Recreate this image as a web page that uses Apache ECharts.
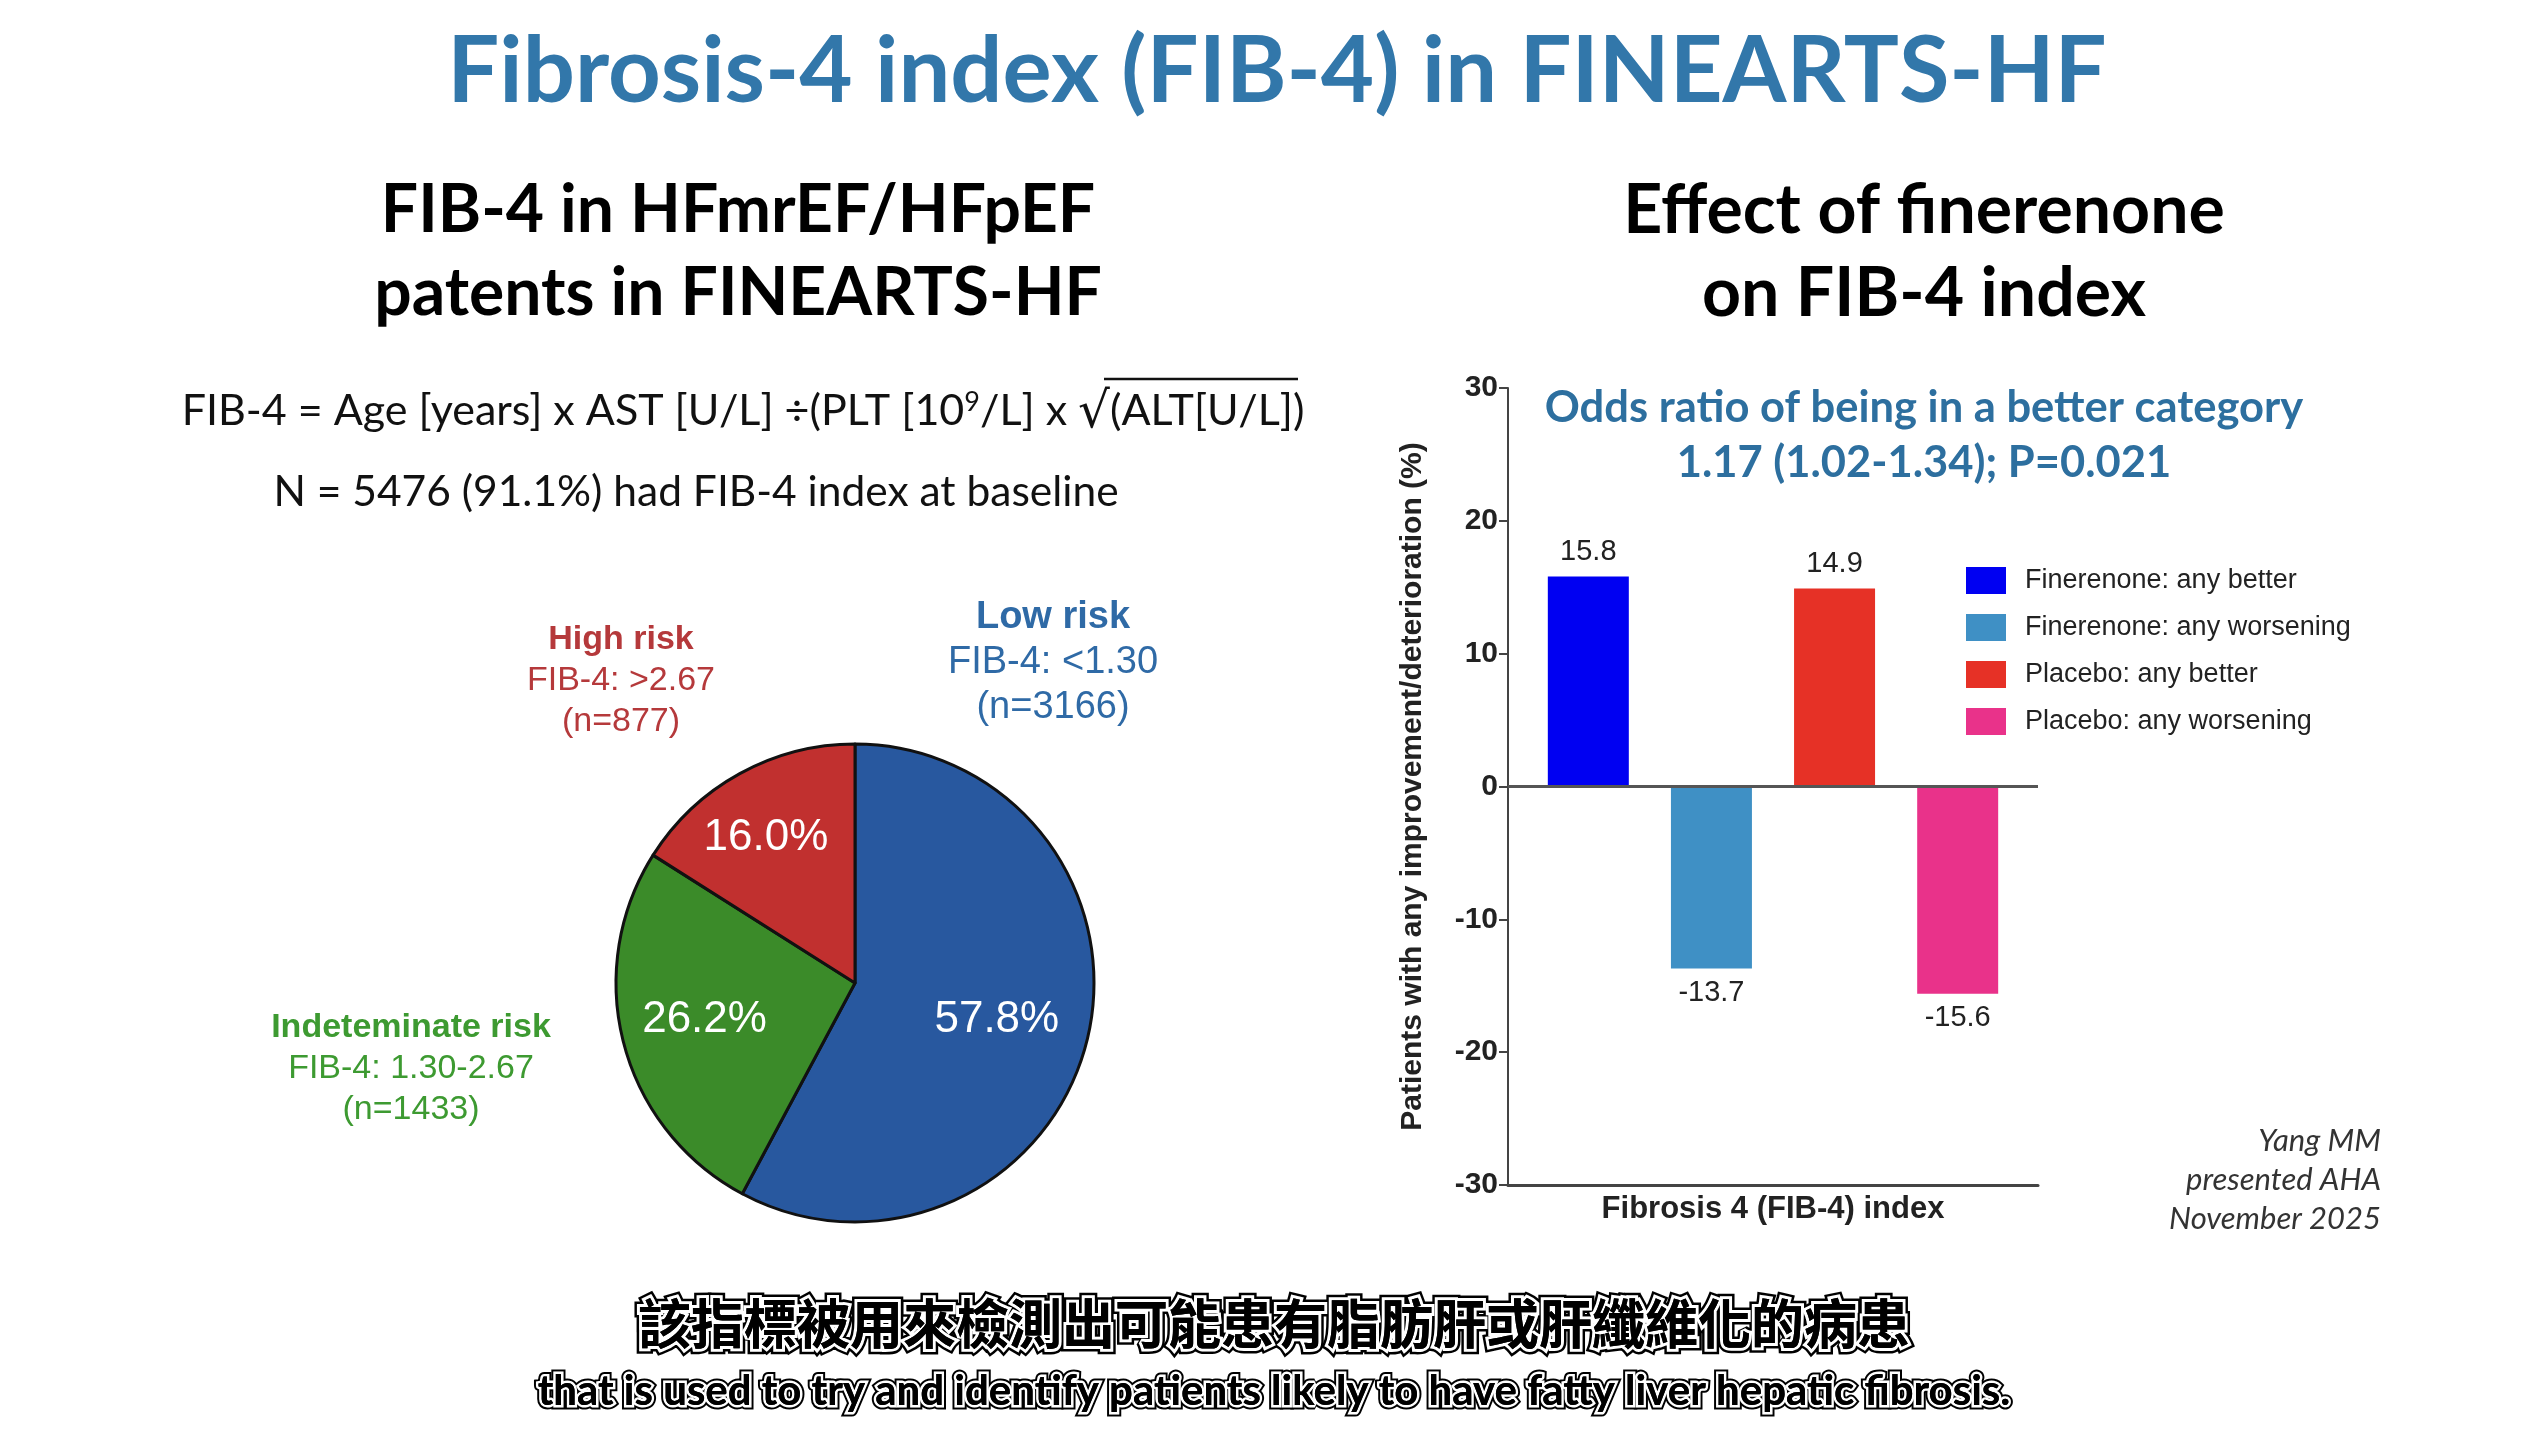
<!DOCTYPE html>
<html>
<head>
<meta charset="utf-8">
<script src="https://cdn.jsdelivr.net/npm/echarts@6/dist/echarts.min.js"></script>
<style>
html,body{margin:0;padding:0;background:#fff;}
#main{width:2548px;height:1432px;}
</style>
</head>
<body>
<div id="main"></div>
<script>
// ---- data ----
const riskNames = ['Low risk', 'Indeteminate risk', 'High risk'];
const riskRanges = ['FIB-4: <1.30', 'FIB-4: 1.30-2.67', 'FIB-4: >2.67'];
const riskCounts = [3166, 1433, 877];

const barCategories = ['Fibrosis 4 (FIB-4) index'];
const barSeriesNames = ['Finerenone: any better', 'Finerenone: any worsening', 'Placebo: any better', 'Placebo: any worsening'];
const barValues = [15.8, -13.7, 14.9, -15.6];
const yMin = -30, yMax = 30, yStep = 10;

const mainTitle = 'Fibrosis-4 index (FIB-4) in FINEARTS-HF';
const leftTitle = ['FIB-4 in HFmrEF/HFpEF', 'patents in FINEARTS-HF'];
const rightTitle = ['Effect of finerenone', 'on FIB-4 index'];
const nLine = 'N = 5476 (91.1%) had FIB-4 index at baseline';
const oddsLines = ['Odds ratio of being in a better category', '1.17 (1.02-1.34); P=0.021'];
const credit = ['Yang MM', 'presented AHA', 'November 2025'];
const subZh = '該指標被用來檢測出可能患有脂肪肝或肝纖維化的病患';
const subEn = 'that is used to try and identify patients likely to have fatty liver hepatic fibrosis.';

// ---- styles ----
const pieColors = ['#28589f', '#3b8b29', '#c1302f'];
const pieLabelColors = ['#2f6aa6', '#3d9a31', '#b5393b'];
const barColors = ['#0000f2', '#3f90c5', '#e63126', '#e9328a'];
const pieLabelOffsets = [[23, 7], [-32, 6], [-30, -38]];
const ARIAL = "'Liberation Sans', Arial, sans-serif";
const CAL = "Lato, 'Open Sans', sans-serif";

const chart = echarts.init(document.getElementById('main'), null, {renderer: 'canvas'});

// external pie labels
const extLabelPos = [
  {x: 1053, y: 663, h: 38, t: 38, lh: 45},
  {x: 411, y: 1069, h: 34, t: 34, lh: 41},
  {x: 621, y: 681, h: 34, t: 34, lh: 41}
];
const extLabels = riskNames.map((n, i) => ({
  type: 'text',
  x: extLabelPos[i].x, y: extLabelPos[i].y,
  style: {
    text: '{h|' + n + '}\n{t|' + riskRanges[i] + '}\n{t|(n=' + riskCounts[i] + ')}',
    align: 'center', verticalAlign: 'middle',
    rich: {
      h: {fontFamily: ARIAL, fontWeight: 'bold', fontSize: extLabelPos[i].h, fill: pieLabelColors[i], lineHeight: extLabelPos[i].lh, align: 'center'},
      t: {fontFamily: ARIAL, fontSize: extLabelPos[i].t, fill: pieLabelColors[i], lineHeight: extLabelPos[i].lh, align: 'center'}
    }
  }
}));

function subtitleLayers(text, y, font, size, weight, outer, inner) {
  const base = {text: text, fontFamily: font, fontWeight: weight, fontSize: size, align: 'center', verticalAlign: 'middle'};
  return [
    {type: 'text', x: 1274, y: y, style: Object.assign({}, base, {fill: '#000', stroke: '#000', lineWidth: outer})},
    {type: 'text', x: 1274, y: y, style: Object.assign({}, base, {fill: '#000', stroke: '#fff', lineWidth: inner})},
    {type: 'text', x: 1274, y: y, style: Object.assign({}, base, {fill: '#000'})}
  ];
}

const T = (x, y, text, extra) => ({type: 'text', x: x, y: y, style: Object.assign({text: text, align: 'center', verticalAlign: 'middle'}, extra)});

const option = {
  backgroundColor: '#fff',
  animation: false,
  graphic: [
    T(1277, 72, mainTitle, {fontFamily: CAL, fontWeight: 'bold', fontSize: 92, fill: '#3277aa'}),
    T(738, 211, leftTitle[0], {fontFamily: CAL, fontWeight: 'bold', fontSize: 66, fill: '#000'}),
    T(738, 294, leftTitle[1], {fontFamily: CAL, fontWeight: 'bold', fontSize: 66, fill: '#000'}),
    T(1924, 211, rightTitle[0], {fontFamily: CAL, fontWeight: 'bold', fontSize: 68, fill: '#000'}),
    T(1924, 294, rightTitle[1], {fontFamily: CAL, fontWeight: 'bold', fontSize: 68, fill: '#000'}),
    {type: 'text', x: 743, y: 411, style: {
      text: '{t|FIB-4 = Age [years] x AST [U/L] ÷(PLT [10}{s|9}{t|/L] x }{r|√}{t|(ALT[U/L])}',
      align: 'center', verticalAlign: 'middle',
      rich: {
        t: {fontFamily: CAL, fontSize: 43, fill: '#111'},
        s: {fontFamily: CAL, fontSize: 27, fill: '#111', padding: [0, 0, 18, 0]},
        r: {fontFamily: "'DejaVu Sans', sans-serif", fontSize: 50, fill: '#111', padding: [6, 0, 0, 0]}
      }
    }},
    {type: 'line', shape: {x1: 1104, y1: 379, x2: 1298, y2: 379}, style: {stroke: '#111', lineWidth: 2.5}},
    T(696, 492, nLine, {fontFamily: CAL, fontSize: 42.5, fill: '#111'}),
    ...extLabels,
    T(1924, 408, oddsLines[0], {fontFamily: CAL, fontWeight: 'bold', fontSize: 43.5, fill: '#2d6f9f'}),
    T(1924, 463, oddsLines[1], {fontFamily: CAL, fontWeight: 'bold', fontSize: 43.5, fill: '#2d6f9f'}),
    {type: 'text', x: 2381, y: 1180, style: {text: credit.join('\n'), fontFamily: CAL, fontStyle: 'italic', fontSize: 31, lineHeight: 39, fill: '#333', align: 'right', verticalAlign: 'middle'}},
    ...subtitleLayers(subZh, 1324, "'Noto Sans CJK TC', sans-serif", 53, 'bold', 11, 6),
    ...subtitleLayers(subEn, 1391, CAL, 42, 'bold', 9, 5)
  ],
  legend: {
    orient: 'vertical',
    left: 1961, top: 562,
    itemWidth: 40, itemHeight: 27, itemGap: 20,
    icon: 'rect',
    data: barSeriesNames,
    textStyle: {fontFamily: ARIAL, fontSize: 27, color: '#222', padding: [0, 0, 0, 14]}
  },
  grid: {left: 1508, top: 388, width: 530, height: 797, containLabel: false},
  xAxis: {
    type: 'category',
    data: barCategories,
    axisLine: {onZero: false, lineStyle: {color: '#444', width: 3}},
    axisTick: {show: false},
    axisLabel: {fontFamily: ARIAL, fontWeight: 'bold', fontSize: 31, color: '#222', margin: 9}
  },
  yAxis: {
    type: 'value', min: yMin, max: yMax, interval: yStep,
    name: 'Patients with any improvement/deterioration (%)',
    nameLocation: 'middle', nameGap: 80, nameRotate: 90,
    nameTextStyle: {fontFamily: ARIAL, fontWeight: 'bold', fontSize: 30, color: '#222'},
    axisLine: {show: true, lineStyle: {color: '#444', width: 2}},
    axisTick: {show: true, length: 9, lineStyle: {color: '#444', width: 2}},
    splitLine: {show: false},
    axisLabel: {fontFamily: ARIAL, fontWeight: 'bold', fontSize: 30, color: '#222', margin: 10}
  },
  series: [
    {
      type: 'pie',
      center: [855, 983],
      radius: 239,
      startAngle: 90,
      clockwise: true,
      silent: true,
      itemStyle: {borderColor: '#111', borderWidth: 3},
      label: {show: true, position: 'inside', formatter: p => p.percent.toFixed(1) + '%', fontFamily: ARIAL, fontSize: 44, color: '#fff'},
      labelLine: {show: false},
      data: riskNames.map((n, i) => ({
        name: n, value: riskCounts[i],
        itemStyle: {color: pieColors[i]},
        label: {offset: pieLabelOffsets[i]}
      }))
    },
    ...barSeriesNames.map((n, i) => ({
      type: 'bar',
      name: n,
      data: [barValues[i]],
      barWidth: 81,
      barGap: '52%',
      itemStyle: {color: barColors[i]},
      label: {show: true, position: barValues[i] < 0 ? 'bottom' : 'top', distance: 10,
        fontFamily: ARIAL, fontSize: 29, color: '#222'},
      markLine: i === 0 ? {
        silent: true, symbol: 'none', label: {show: false},
        lineStyle: {color: '#555', width: 3, type: 'solid'},
        data: [{yAxis: 0}]
      } : undefined
    }))
  ]
};
chart.setOption(option);
</script>
</body>
</html>
